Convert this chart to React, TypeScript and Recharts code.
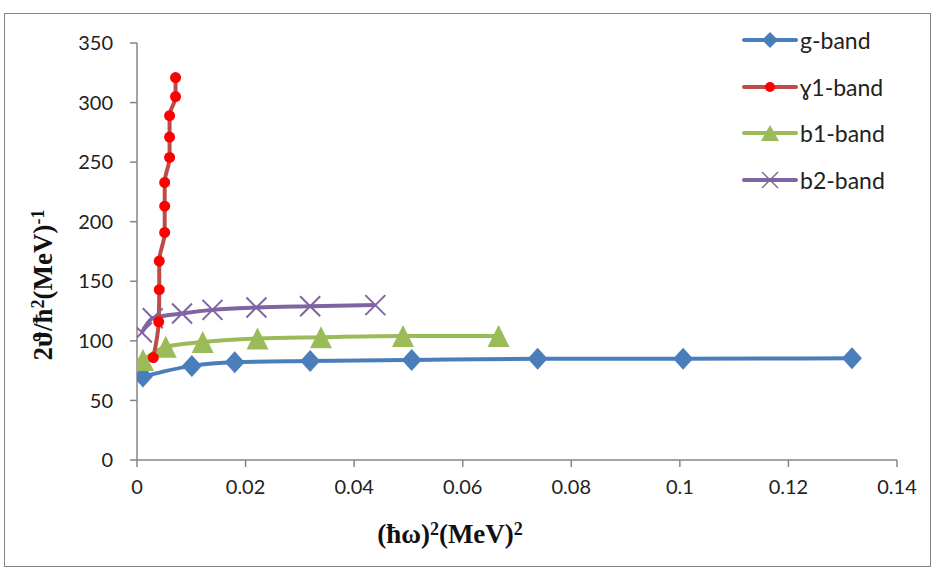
import React from "react";
import { LineChart, Line, XAxis, YAxis } from "recharts";

// values, x = (ħω)² in MeV², y = 2ϑ/ħ² in MeV⁻¹
const gBandX = [0.0011, 0.0101, 0.018, 0.0319, 0.0506, 0.0738, 0.1006, 0.1317];
const gBandY = [70, 79, 82, 83, 84, 85, 85, 85.5];

const y1BandX = [0.003, 0.004, 0.0041, 0.0041, 0.0051, 0.0051, 0.0051, 0.006, 0.006, 0.006, 0.0071, 0.0071];
const y1BandY = [86, 116, 143, 167, 191, 213, 233, 254, 271, 289, 305, 321];

const b1BandX = [0.0011, 0.0053, 0.0121, 0.0222, 0.0339, 0.049, 0.0666];
const b1BandY = [84, 95, 99, 102, 103, 104, 104];

const b2BandX = [0.0009, 0.0029, 0.0083, 0.0139, 0.022, 0.0319, 0.0439];
const b2BandY = [107, 119, 123, 126, 128, 129, 130];

const xTicks = [0, 0.02, 0.04, 0.06, 0.08, 0.1, 0.12, 0.14];
const yTicks = [0, 50, 100, 150, 200, 250, 300, 350];

const seriesNames = ["g-band", "ɣ1-band", "b1-band", "b2-band"];

const BLUE = "#4a7ebb";
const RED_LINE = "#be4b48";
const RED_DOT = "#ff0000";
const GREEN = "#9bbb59";
const PURPLE = "#8064a2";
const AXIS = "#868686";

const toPoints = (xs: number[], ys: number[]) => xs.map((x, i) => ({ x, y: ys[i] }));

const Diamond = (p: any) => {
  const { cx, cy } = p;
  if (cx == null || cy == null) return null;
  return <polygon key={`d${p.index}`} points={`${cx},${cy - 11} ${cx + 10},${cy} ${cx},${cy + 11} ${cx - 10},${cy}`} fill={BLUE} />;
};

const Circle = (p: any) => {
  const { cx, cy } = p;
  if (cx == null || cy == null) return null;
  return <circle key={`c${p.index}`} cx={cx} cy={cy} r={5.5} fill={RED_DOT} />;
};

const Triangle = (p: any) => {
  const { cx, cy } = p;
  if (cx == null || cy == null) return null;
  return <polygon key={`t${p.index}`} points={`${cx},${cy - 11} ${cx + 11},${cy + 11} ${cx - 11},${cy + 11}`} fill={GREEN} />;
};

const Cross = (p: any) => {
  const { cx, cy } = p;
  if (cx == null || cy == null) return null;
  return (
    <g key={`x${p.index}`} stroke={PURPLE} strokeWidth={2}>
      <line x1={cx - 10} y1={cy - 10} x2={cx + 10} y2={cy + 10} />
      <line x1={cx - 10} y1={cy + 10} x2={cx + 10} y2={cy - 10} />
    </g>
  );
};

const legendItems = [
  { name: seriesNames[0], color: BLUE, marker: "diamond" },
  { name: seriesNames[1], color: RED_LINE, marker: "circle" },
  { name: seriesNames[2], color: GREEN, marker: "triangle" },
  { name: seriesNames[3], color: PURPLE, marker: "cross" },
];

const LegendIcon = ({ color, marker }: { color: string; marker: string }) => (
  <svg width={56} height={24} style={{ display: "block" }}>
    <line x1={2} y1={12} x2={54} y2={12} stroke={color} strokeWidth={4} strokeLinecap="round" />
    {marker === "diamond" && <polygon points="28,4 36,12 28,20 20,12" fill={BLUE} />}
    {marker === "circle" && <circle cx={28} cy={12} r={5} fill={RED_DOT} />}
    {marker === "triangle" && <polygon points="28,4 37,20 19,20" fill={GREEN} />}
    {marker === "cross" && (
      <g stroke={PURPLE} strokeWidth={1.5}>
        <line x1={20} y1={4} x2={36} y2={20} />
        <line x1={20} y1={20} x2={36} y2={4} />
      </g>
    )}
  </svg>
);

const fmtX = (v: number) => String(Math.round(v * 100) / 100);

const titleStyle: React.CSSProperties = {
  position: "absolute",
  fontFamily: "'Liberation Serif', 'Times New Roman', serif",
  fontWeight: "bold",
  fontSize: 27,
  whiteSpace: "nowrap",
  color: "#111",
  lineHeight: 1,
};
const supStyle: React.CSSProperties = { fontSize: 18, verticalAlign: "0.45em" };

export default function App() {
  const tickFont = { fontFamily: "Lato, sans-serif", fontSize: 20, fill: "#222" };
  return (
    <div style={{ position: "fixed", left: 0, top: 0, width: 933, height: 569, background: "#fff" }}>
      <div style={{ position: "absolute", left: 4, top: 13, width: 925, height: 552, border: `1px solid ${AXIS}` }} />
      <div style={{ position: "absolute", left: 0, top: 0 }}>
        <LineChart width={933} height={569} margin={{ top: 43, right: 36, bottom: 49, left: 0 }}>
          <XAxis
            type="number"
            dataKey="x"
            domain={[0, 0.14]}
            ticks={xTicks}
            tickFormatter={fmtX}
            height={60}
            allowDataOverflow
            stroke={AXIS}
            tickSize={7}
            tickMargin={13}
            tick={tickFont}
            axisLine={{ stroke: AXIS, strokeWidth: 1.5 }}
            tickLine={{ stroke: AXIS, strokeWidth: 1.5 }}
          />
          <YAxis
            type="number"
            dataKey="y"
            domain={[0, 350]}
            ticks={yTicks}
            width={137}
            stroke={AXIS}
            tickSize={7}
            tickMargin={17}
            tick={tickFont}
            axisLine={{ stroke: AXIS, strokeWidth: 1.5 }}
            tickLine={{ stroke: AXIS, strokeWidth: 1.5 }}
          />
          <Line data={toPoints(gBandX, gBandY)} dataKey="y" name={seriesNames[0]} type="monotone" stroke={BLUE} strokeWidth={4} dot={Diamond} activeDot={false} isAnimationActive={false} />
          <Line data={toPoints(b1BandX, b1BandY)} dataKey="y" name={seriesNames[2]} type="monotone" stroke={GREEN} strokeWidth={4} dot={Triangle} activeDot={false} isAnimationActive={false} />
          <Line data={toPoints(b2BandX, b2BandY)} dataKey="y" name={seriesNames[3]} type="monotone" stroke={PURPLE} strokeWidth={4} dot={Cross} activeDot={false} isAnimationActive={false} />
          <Line data={toPoints(y1BandX, y1BandY)} dataKey="y" name={seriesNames[1]} type="monotoneY" stroke={RED_LINE} strokeWidth={4} dot={Circle} activeDot={false} isAnimationActive={false} />
        </LineChart>
      </div>

      {/* legend */}
      {legendItems.map((it, i) => (
        <div key={it.name} style={{ position: "absolute", left: 742, top: 28 + i * 46.7, display: "flex", alignItems: "center", height: 24 }}>
          <LegendIcon color={it.color} marker={it.marker} />
          <span style={{ fontFamily: "Lato, sans-serif", fontSize: 23, color: "#222", marginLeft: 2, whiteSpace: "nowrap" }}>{it.name}</span>
        </div>
      ))}

      {/* axis titles */}
      <div style={{ ...titleStyle, left: 43, top: 285, transform: "translate(-50%, -50%) rotate(-90deg)" }}>
        2ϑ/ħ<span style={supStyle}>2</span>(MeV)<span style={supStyle}>-1</span>
      </div>
      <div style={{ ...titleStyle, left: 450, top: 534, transform: "translate(-50%, -50%)" }}>
        (ħω)<span style={supStyle}>2</span>(MeV)<span style={supStyle}>2</span>
      </div>
    </div>
  );
}
